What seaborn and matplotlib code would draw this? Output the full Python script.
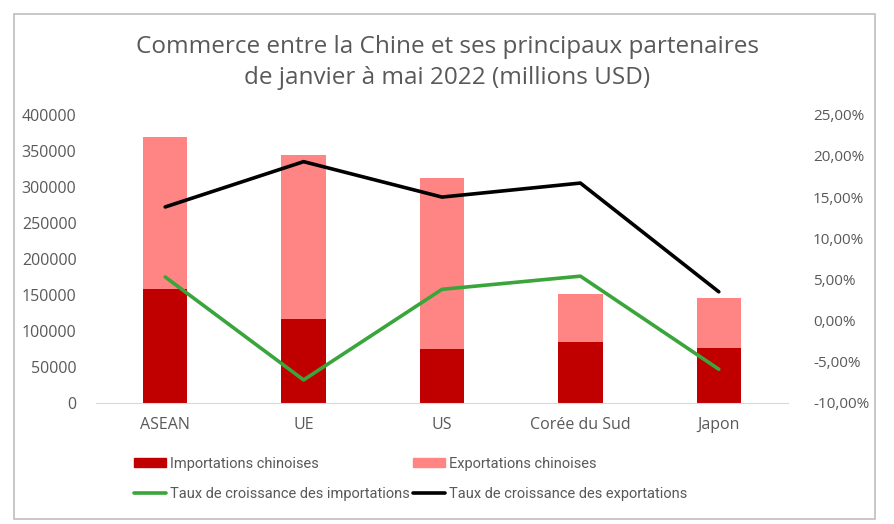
import numpy as np
import matplotlib
matplotlib.use("Agg")
import matplotlib.pyplot as plt
import seaborn as sns
from matplotlib.patches import Rectangle, Patch
from matplotlib.lines import Line2D
from matplotlib.ticker import FuncFormatter

# data
partenaires = ["ASEAN", "UE", "US", "Corée du Sud", "Japon"]
importations = [158300, 116700, 75400, 84700, 76400]
exportations = [211100, 227700, 237100, 67100, 69400]
croissance_imp = [5.3, -7.2, 3.8, 5.4, -5.9]
croissance_exp = [13.8, 19.3, 15.0, 16.7, 3.5]

sns.set_style("white")
plt.rcParams['font.family'] = ['Open Sans', 'DejaVu Sans']

gris = "#595959"
c_imp = "#C00000"
c_exp = "#FF8585"
c_vert = "#3AA53A"

fig = plt.figure(figsize=(8.94, 5.24), dpi=100)
ax = fig.add_axes([96 / 894, 1 - 403 / 524, (788 - 96) / 894, (403 - 114.7) / 524])

# stacked bars: totals in light red, imports drawn over them in dark red
totaux = np.array(importations) + np.array(exportations)
sns.barplot(x=partenaires, y=totaux, color=c_exp, width=0.32, saturation=1, linewidth=0, ax=ax)
sns.barplot(x=partenaires, y=importations, color=c_imp, width=0.32, saturation=1, linewidth=0, ax=ax)
ax.set_ylim(0, 400000)
ax.set_xlim(-0.5, 4.5)
ax.set_yticks(range(0, 400001, 50000))
ax.tick_params(axis='both', colors=gris, labelsize=11.5, length=0)
ax.tick_params(axis='x', pad=10)
ax.tick_params(axis='y', pad=14)
for s in ["top", "right", "left"]:
    ax.spines[s].set_visible(False)
ax.spines["bottom"].set_color("#D9D9D9")

# growth rates on the right axis
ax2 = ax.twinx()
x = np.arange(len(partenaires))
sns.lineplot(x=x, y=croissance_imp, color=c_vert, lw=2.6, sort=False, ax=ax2)
sns.lineplot(x=x, y=croissance_exp, color="black", lw=2.6, sort=False, ax=ax2)
ax2.set_ylim(-10, 25)
ax2.set_yticks(range(-10, 26, 5))
ax2.yaxis.set_major_formatter(FuncFormatter(lambda v, p: f"{v:.2f}".replace(".", ",") + "%"))
ax2.tick_params(axis='y', colors=gris, labelsize=11, length=0, pad=18)
for s in ax2.spines.values():
    s.set_visible(False)
ax2.set_xlim(-0.5, 4.5)

fig.text(0.5, 1 - 47 / 524, "Commerce entre la Chine et ses principaux partenaires",
         ha="center", va="center", fontsize=17.5, color=gris)
fig.text(0.5, 1 - 78 / 524, "de janvier à mai 2022 (millions USD)",
         ha="center", va="center", fontsize=17.5, color=gris)

handles = [Patch(color=c_imp), Line2D([], [], color=c_vert, lw=2.6),
           Patch(color=c_exp), Line2D([], [], color="black", lw=2.6)]
labels = ["Importations chinoises", "Taux de croissance des importations",
          "Exportations chinoises", "Taux de croissance des exportations"]
fig.legend(handles, labels, ncol=2, loc="center left", bbox_to_anchor=(128 / 894, 1 - 479 / 524),
           frameon=False, prop={'family': ['Roboto', 'DejaVu Sans'], 'size': 10.5},
           labelcolor=gris, handlelength=2.2, handleheight=0.6, handletextpad=0.3,
           columnspacing=0.2, labelspacing=1.1, borderaxespad=0)

fig.patches.append(Rectangle((14 / 894, 1 - 519 / 524), (875 - 14) / 894, (519 - 14) / 524,
                             transform=fig.transFigure, fill=False, ec="#BFBFBF", lw=1.2))

fig.savefig("out.png", dpi=100)
